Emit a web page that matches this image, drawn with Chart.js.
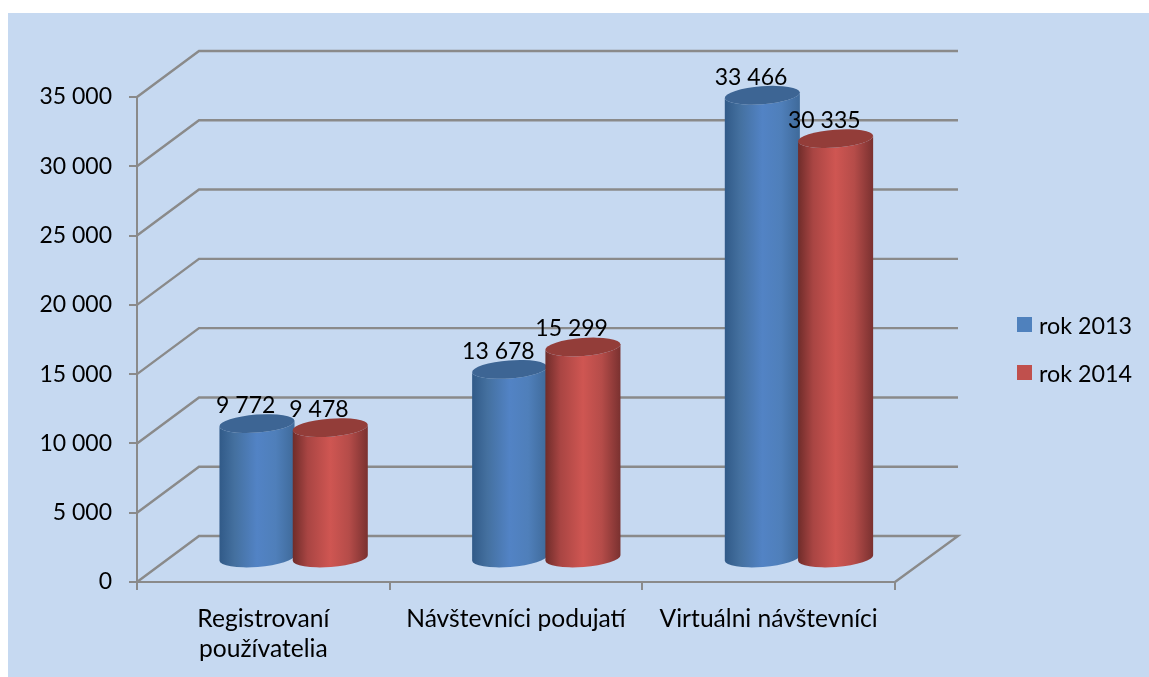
<!DOCTYPE html>
<html>
<head>
<meta charset="utf-8">
<script src="https://cdn.jsdelivr.net/npm/chart.js@4"></script>
<style>
  body { margin: 0; background: #fff; overflow: hidden; }
  #panel { position: absolute; left: 8px; top: 13px; width: 1141px; height: 664px; background: #c6d9f1; }
  canvas { position: absolute; left: 0; top: 0; }
  .legend-item { position: absolute; left: 1017px; font: 23.3px Lato, sans-serif; color: #000; line-height: 26px; white-space: nowrap; }
  .legend-item i { position: absolute; left: 0; top: 5px; width: 15px; height: 15px; }
  .legend-item span { margin-left: 22px; }
</style>
</head>
<body>
<div id="panel"></div>
<canvas id="chart" width="1149" height="677"></canvas>
<div id="legend"></div>
<script>
const categories = [['Registrovaní', 'používatelia'], 'Návštevníci podujatí', 'Virtuálni návštevníci'];
const seriesNames = ['rok 2013', 'rok 2014'];
const values2013 = [9772, 13678, 33466];
const values2014 = [9478, 15299, 30335];
const yTicks = [0, 5000, 10000, 15000, 20000, 25000, 30000, 35000];

const legendColors = ['#4f81bd', '#c0504d'];
const topColors = ['#3d6594', '#933d39'];
const sideColors = [
  ['#315a88', '#44709f', '#5283c5', '#4f7fba', '#3f6a9a'],
  ['#6f2c2a', '#a94543', '#cf5652', '#b54c49', '#7a3130']
];
const gridColor = '#8a8a8a';
const depthX = 62, depthY = 46, backRight = 958;
const font = 'Lato, sans-serif';

function fmt(v) {
  return String(v).replace(/\B(?=(\d{3})+$)/g, ' ');
}

// html legend, same positions as the picture
let legendHtml = '';
seriesNames.forEach((name, i) => {
  legendHtml += `<div class="legend-item" style="top:${312 + i * 48}px"><i style="background:${legendColors[i]}"></i><span>${name}</span></div>`;
});
document.getElementById('legend').innerHTML = legendHtml;

// back wall and floor lines of the 3d box
const wallPlugin = {
  id: 'walls',
  beforeDatasetsDraw(chart) {
    const ctx = chart.ctx, y = chart.scales.y, area = chart.chartArea;
    ctx.save();
    ctx.strokeStyle = gridColor;
    ctx.lineWidth = 2.4;
    yTicks.forEach(t => {
      const py = y.getPixelForValue(t);
      ctx.beginPath();
      ctx.moveTo(area.left, py);
      ctx.lineTo(area.left + depthX, py - depthY);
      ctx.lineTo(backRight, py - depthY);
      if (t === 0) ctx.lineTo(area.right, py);
      ctx.stroke();
    });
    ctx.restore();
  }
};

// cylinders sit half way into the box
const cylinderPlugin = {
  id: 'cylinders',
  afterDatasetsDraw(chart) {
    const ctx = chart.ctx;
    const rot = -0.075, ry = 9;
    chart.data.datasets.forEach((ds, d) => {
      chart.getDatasetMeta(d).data.forEach((bar, i) => {
        const cx = bar.x + depthX / 2 - 0.7;
        const top = bar.y - depthY / 2;
        const base = bar.base - depthY / 2;
        const rx = bar.width / 2 + 1;
        const ex = rx * Math.cos(rot), ey = rx * Math.sin(rot);

        const g = ctx.createLinearGradient(cx - ex, 0, cx + ex, 0);
        [0, 0.2, 0.5, 0.75, 1].forEach((s, k) => g.addColorStop(s, sideColors[d][k]));

        ctx.beginPath();
        ctx.moveTo(cx - ex, top - ey);
        ctx.lineTo(cx - ex, base - ey);
        ctx.ellipse(cx, base, rx, ry, rot, Math.PI, 0, true);
        ctx.lineTo(cx + ex, top + ey);
        ctx.ellipse(cx, top, rx, ry, rot, 0, Math.PI, false);
        ctx.closePath();
        ctx.fillStyle = g;
        ctx.fill();

        ctx.beginPath();
        ctx.ellipse(cx, top, rx, ry, rot, 0, Math.PI * 2);
        ctx.fillStyle = topColors[d];
        ctx.fill();
      });
    });
    // value labels go over all bars
    ctx.fillStyle = '#000';
    ctx.font = '23px ' + font;
    ctx.textAlign = 'center';
    ctx.textBaseline = 'middle';
    chart.data.datasets.forEach((ds, d) => {
      chart.getDatasetMeta(d).data.forEach((bar, i) => {
        ctx.fillText(fmt(ds.data[i]), bar.x + depthX / 2 - 12, bar.y - depthY / 2 - 18);
      });
    });
  }
};

new Chart(document.getElementById('chart'), {
  type: 'bar',
  data: {
    labels: categories,
    datasets: [
      { label: seriesNames[0], data: values2013, backgroundColor: 'rgba(0,0,0,0)' },
      { label: seriesNames[1], data: values2014, backgroundColor: 'rgba(0,0,0,0)' }
    ]
  },
  options: {
    responsive: false,
    animation: false,
    categoryPercentage: 0.58,
    barPercentage: 1,
    layout: { padding: { top: 97, right: 254, left: 0, bottom: 0 } },
    plugins: { legend: { display: false }, tooltip: { enabled: false } },
    scales: {
      x: {
        afterFit(s) { s.height = 95; },
        grid: { drawOnChartArea: false, color: gridColor, lineWidth: 2, tickLength: 8 },
        border: { color: gridColor, width: 2 },
        ticks: { color: '#000', font: { family: font, size: 24.6, lineHeight: 1.22 }, padding: 14, maxRotation: 0, autoSkip: false }
      },
      y: {
        min: 0,
        max: 35000,
        afterFit(s) { s.width = 137; },
        afterBuildTicks(s) { s.ticks = yTicks.map(v => ({ value: v })); },
        grid: { drawOnChartArea: false, color: gridColor, lineWidth: 2, tickLength: 8 },
        border: { color: gridColor, width: 2 },
        ticks: { color: '#000', font: { family: font, size: 23 }, padding: 17, callback: v => fmt(v) }
      }
    }
  },
  plugins: [wallPlugin, cylinderPlugin]
});
</script>
</body>
</html>
